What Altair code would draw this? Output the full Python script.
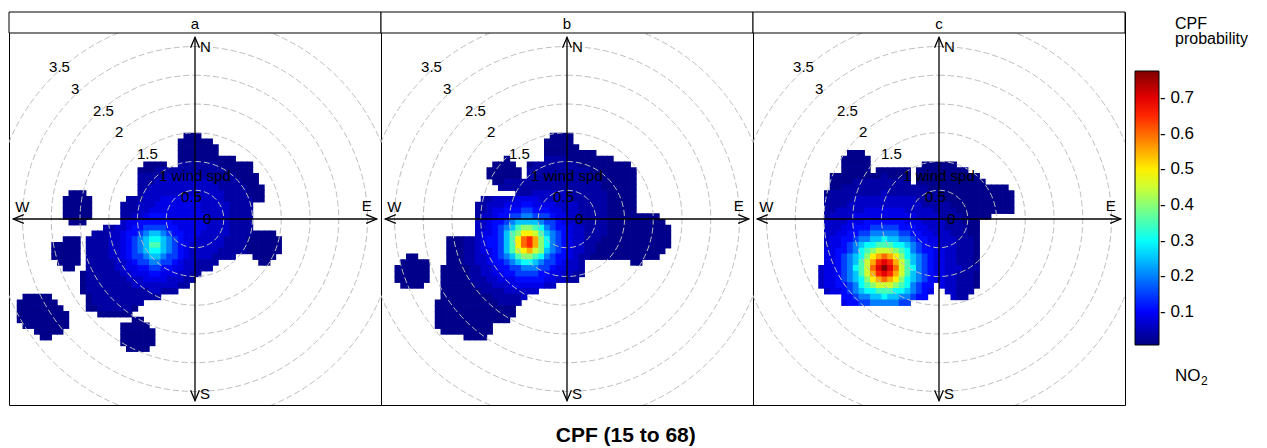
import math
import altair as alt
import pandas as pd

# ---------------------------------------------------------------- data
PANELS = ["a", "b", "c"]
TITLE = "CPF (15 to 68)"
LEGEND_TITLE = ["CPF", "probability"]
POLLUTANT = ["NO", "2"]
CPF_TICKS = [0.1, 0.2, 0.3, 0.4, 0.5, 0.6, 0.7]
CPF_DOMAIN = [0.007, 0.776]
JET = ["#00007F", "#0000FF", "#007FFF", "#00FFFF", "#7FFF7F",
       "#FFFF00", "#FF7F00", "#FF0000", "#7F0000"]

RING_RADII = [0.5, 1.0, 1.5, 2.0, 2.5, 3.0, 3.5]
RING_LABEL_R = [0.0, 0.5, 1.0, 1.5, 2.0, 2.5, 3.0, 3.5]
RING_LABELS = ["0", "0.5", "1 wind spd", "1.5", "2", "2.5", "3", "3.5"]
COMPASS = ["N", "E", "S", "W"]

# CPF probability read cell by cell (0.1 wind-speed units), '.' = no data
CODES = "0123456789abcdefghi"
CODE_VALUES = [0.015, 0.035, 0.06, 0.085, 0.11, 0.15, 0.2, 0.25, 0.3, 0.35,
               0.4, 0.45, 0.5, 0.55, 0.6, 0.65, 0.7, 0.74, 0.77]
GRID_X0, GRID_Y0, GRID_STEP = -3.1, 1.5, 0.1

GRID_A = [
    "..... ..... ..... ..... ..... ....0 00... ..... ..... ....",
    "..... ..... ..... ..... ..... ...00 0000. ..... ..... ....",
    "..... ..... ..... ..... ..... ...00 00000 ..... ..... ....",
    "..... ..... ..... ..... ..... ...00 00000 ..... ..... ....",
    "..... ..... ..... ..... ..... ...00 00000 000.. ..... ....",
    "..... ..... ..... ..... ..000 0..11 11111 00000 0.... ....",
    "..... ..... ..... ..... .0001 11111 11111 10000 0.... ....",
    "..... ..... ..... ..... .1111 12222 22111 11100 00... ....",
    "..... ..... ..... ..... .1112 22222 22221 11110 00... ....",
    "..... ..... ..... ..... .1122 22222 22222 11111 000.. ....",
    "..... ....0 00... ..... .1222 22222 22222 21111 000.. ....",
    "..... ...00 000.. ....1 11222 33333 32222 21111 100.. ....",
    "..... ...00 000.. ...11 12223 33333 33222 22111 1.... ....",
    "..... ...00 000.. ...11 12233 33333 33222 22111 1.... ....",
    "..... ...00 000.. ...11 22344 43333 33322 22111 1.... ....",
    "..... ....0 00... ...23 34444 44333 33322 22111 1.... ....",
    "..... ..... ..... 11223 44555 54433 33322 22111 1.... ....",
    "..... ..... ...11 12234 45677 65443 33222 22111 10000 ....",
    "..... ...00 0.111 12234 56788 76543 32222 21111 00000 0...",
    "..... .0000 0.111 12234 56799 76543 22222 21111 00000 0...",
    "..... .0000 0.111 12234 56788 76543 22222 11111 00000 0...",
    "..... .0000 0.111 12234 55677 65543 22221 111.. .0000 ....",
    "..... ..000 0.111 11223 45566 55432 21111 ..... ..00. ....",
    "..... ...00 ..111 11223 34455 44332 2111. ..... ..... ....",
    "..... ..... .0111 11122 33344 33322 11... ..... ..... ....",
    "..... ..... .0111 11112 22333 32221 1.... ..... ..... ....",
    "..... ..... .0111 11111 22222 22211 ..... ..... ..... ....",
    "..... ..... .0111 11111 11122 111.. ..... ..... ..... ....",
    ".0000 0.... ..011 11111 11111 ..... ..... ..... ..... ....",
    "00000 00... ..011 11111 11... ..... ..... ..... ..... ....",
    "00000 000.. ..001 11111 0.... ..... ..... ..... ..... ....",
    "00000 0000. ....0 00000 ..... ..... ..... ..... ..... ....",
    "00000 0000. ..... ..... 00... ..... ..... ..... ..... ....",
    ".0000 0000. ..... ...00 000.. ..... ..... ..... ..... ....",
    "...00 000.. ..... ...00 0000. ..... ..... ..... ..... ....",
    "....0 0.... ..... ...00 0000. ..... ..... ..... ..... ....",
    "..... ..... ..... ...00 0000. ..... ..... ..... ..... ....",
    "..... ..... ..... ....0 000.. ..... ..... ..... ..... ....",
]

GRID_B = [
    "..... ..... ..... ..... ..... ...00 00... ..... ..... ....",
    "..... ..... ..... ..... ..... ..000 00... ..... ..... ....",
    "..... ..... ..... ..... ..... ..000 000.. ..... ..... ....",
    "..... ..... ..... ..... ..... ..000 00000 0.... ..... ....",
    "..... ..... ..... ..... 0.... ..111 10000 0000. ..... ....",
    "..... ..... ..... ...00 00..0 11111 11100 00000 00... ....",
    "..... ..... ..... ..000 000.1 11111 11111 00000 000.. ....",
    "..... ..... ..... ..000 000.1 11111 11111 10000 000.. ....",
    "..... ..... ..... ...00 11111 11111 11111 11000 000.. ....",
    "..... ..... ..... ....1 11111 11111 11111 11000 000.. ....",
    "..... ..... ..... ..... ..111 22222 21111 11100 000.. ....",
    "..... ..... ..... .1122 22333 32222 22111 11100 000.. ....",
    "..... ..... ..... 11222 33344 33332 22211 11100 000.. ....",
    "..... ..... ..... 11233 44455 44433 22211 11100 000.. ....",
    "..... ..... ..... 12234 45566 55543 32211 11100 00000 00..",
    "..... ..... ..... 22344 56777 76554 32211 11100 00000 000.",
    "..... ..... ..... 22345 679aa 98654 43221 11100 00000 0000",
    "..... ..... ..... 23345 79acc b9765 43221 11100 00000 0000",
    "..... ..... 00011 23445 79cef da865 43221 11000 00000 0000",
    "..... ..... 00011 23445 79cef da865 43221 10000 00000 0000",
    "..... ..... 00011 23345 79bcd ba765 43221 10000 00000 000.",
    "...00 ..... 00011 22345 679aa 98654 43211 00000 00000 00..",
    "..000 00... 00011 22344 56788 76554 3221. ..... ..00. ....",
    ".0000 00..0 00001 12234 45566 65543 3221. ..... ..... ....",
    ".0000 00..0 00001 12233 44555 54433 2211. ..... ..... ....",
    ".0000 00..0 00001 11223 33444 44332 211.. ..... ..... ....",
    "..000 0...0 00000 11122 23333 3322. ..... ..... ..... ....",
    "..... ....0 00000 01111 22222 2.... ..... ..... ..... ....",
    "..... ....0 00000 00011 1112. ..... ..... ..... ..... ....",
    "..... ...00 00000 00001 111.. ..... ..... ..... ..... ....",
    "..... ...00 00000 00000 00... ..... ..... ..... ..... ....",
    "..... ...00 00000 00000 00... ..... ..... ..... ..... ....",
    "..... ...00 00000 00000 0.... ..... ..... ..... ..... ....",
    "..... ...00 00000 000.. ..... ..... ..... ..... ..... ....",
    "..... ....0 00000 000.. ..... ..... ..... ..... ..... ....",
    "..... ..... ...00 00... ..... ..... ..... ..... ..... ....",
]

GRID_C = [
    "..... ..... ..... ..... ..... ..... ..... ..... ..... ....",
    "..... ..... ..... ..... ..... ..... ..... ..... ..... ....",
    "..... ..... ..... ..... ..... ..... ..... ..... ..... ....",
    "..... ..... ..... 000.. ..... ..... ..... ..... ..... ....",
    "..... ..... ....0 0000. ..... ..... ..... ..... ..... ....",
    "..... ..... ....0 0000. ..... ...00 0000. ..... ..... ....",
    "..... ..... ....0 0000. 00000 0.000 00000 0.... ..... ....",
    "..... ..... ..000 00000 01000 0.000 00000 000.. ..... ....",
    "..... ..... ..000 01111 11111 1.000 00000 0000. ..... ....",
    "..... ..... ..001 11111 11111 11110 00000 00000 000.. ....",
    "..... ..... .0111 11111 12111 11111 10000 00000 0000. ....",
    "..... ..... .1111 12222 22222 22111 11000 00000 0000. ....",
    "..... ..... .1111 22222 22222 22211 11100 00000 0000. ....",
    "..... ..... .1122 22233 33333 22222 11110 00000 0000. ....",
    "..... ..... .1222 23333 33333 33222 21111 00000 ..... ....",
    "..... ..... .2222 33344 44444 33322 22111 000.. ..... ....",
    "..... ..... .2223 34445 55554 44332 22111 100.. ..... ....",
    "..... ..... .2233 44556 66665 54433 22211 100.. ..... ....",
    "..... ..... .2334 45667 78776 65443 32221 110.. ..... ....",
    "..... ..... .2334 56788 99988 76543 32221 110.. ..... ....",
    "..... ..... .3344 5689a bbba9 86544 33221 110.. ..... ....",
    "..... ..... .3345 678ac dedca 87654 33221 110.. ..... ....",
    "..... ..... .3345 679bd fgfdb 97654 33221 110.. ..... ....",
    "..... ..... 23345 689be gigeb 98654 33222 111.. ..... ....",
    "..... ..... 23345 679bd fgfdb 97654 33221 110.. ..... ....",
    "..... ..... 23345 678ac dedca 87654 33221 110.. ..... ....",
    "..... ..... 23344 5689a bbba9 86544 .3221 110.. ..... ....",
    "..... ..... .2334 56788 99988 76543 ..221 11... ..... ....",
    "..... ..... ....4 45667 78776 6544. ...21 1.... ..... ....",
    "..... ..... ....3 44556 66665 5.... ..... ..... ..... ....",
]
GRIDS = [GRID_A, GRID_B, GRID_C]

# ---------------------------------------------------------------- layout / style
FONT = "Liberation Sans"
W = 372                  # plot area of one panel (square)
STRIP_H = 21             # strip with the panel letter, on top of each panel
LIM = 3.235              # half extent of each panel in wind-speed units
UNIT_PX = (W / 2) / LIM  # pixels per wind-speed unit
TOP = LIM + STRIP_H / UNIT_PX
AXIS_TIP = 3.16          # where the compass arrows end
SEAM = 0.012             # tiny overlap so that adjacent cells show no seams


def cells(grid):
    recs = []
    for r, row in enumerate(grid):
        row = row.replace(" ", "")
        for c, ch in enumerate(row):
            if ch == ".":
                continue
            x0 = GRID_X0 + GRID_STEP * c
            y1 = GRID_Y0 - GRID_STEP * r
            recs.append({"x0": x0, "x1": x0 + GRID_STEP + SEAM,
                         "y0": y1 - GRID_STEP - SEAM, "y1": y1,
                         "v": CODE_VALUES[CODES.index(ch)]})
    return pd.DataFrame(recs)


xs = alt.Scale(domain=[-LIM, LIM], nice=False, zero=False)
ys = alt.Scale(domain=[-LIM, TOP], nice=False, zero=False)
cscale = alt.Scale(domain=CPF_DOMAIN, range=JET, interpolate="rgb")
rscale = alt.Scale(type="linear", domain=[0, LIM], range=[0, W / 2], zero=True)

legend = alt.Legend(
    type="gradient", orient="none", legendX=1126, legendY=59,
    direction="vertical", title=None,
    gradientLength=274, gradientThickness=24, gradientStrokeColor="black",
    gradientStrokeWidth=1, values=CPF_TICKS, format=".1f",
    labelFont=FONT, labelFontSize=17, labelColor="black", labelOffset=1,
    labelOverlap=False, labelExpr="'-  ' + datum.label", padding=0)


def X(f):
    return alt.X(f, scale=xs, axis=None)


def Y(f):
    return alt.Y(f, scale=ys, axis=None)


one = pd.DataFrame({"k": [0]})
ring_df = pd.DataFrame({"r": RING_RADII, "cx": 0.0, "cy": 0.0})
lab_df = pd.DataFrame({"r": RING_LABEL_R, "t": RING_LABELS})
axes_df = pd.DataFrame({"x": [-AXIS_TIP, 0.0], "x2": [AXIS_TIP, 0.0],
                        "y": [0.0, -AXIS_TIP], "y2": [0.0, AXIS_TIP]})
arrow_df = pd.DataFrame({"x": [0.0, AXIS_TIP, 0.0, -AXIS_TIP],
                         "y": [AXIS_TIP, 0.0, -AXIS_TIP, 0.0],
                         "ang": [0, 90, 180, 270]})
tips = {"N": (0.0, AXIS_TIP), "E": (AXIS_TIP, 0.0),
        "S": (0.0, -AXIS_TIP), "W": (-AXIS_TIP, 0.0)}
compass_style = {"N": dict(align="left", dx=5, dy=15),
                 "E": dict(align="center", dx=-10, dy=-8),
                 "S": dict(align="left", dx=5, dy=-2),
                 "W": dict(align="center", dx=9, dy=-7)}


def panel(name, grid):
    heat = alt.Chart(cells(grid)).mark_rect(strokeWidth=0).encode(
        x=X("x0:Q"), x2="x1:Q", y=Y("y0:Q"), y2="y1:Q",
        color=alt.Color("v:Q", scale=cscale, legend=legend))
    rings = alt.Chart(ring_df).mark_arc(
        theta=0, theta2=2 * math.pi, fillOpacity=0, stroke="#bdbdbd",
        strokeWidth=1, strokeDash=[6, 3], clip=True).encode(
        x=X("cx:Q"), y=Y("cy:Q"),
        radius=alt.Radius("r:Q", scale=rscale, stack=False))
    strip_box = alt.Chart(one).mark_rect(
        fill="white", stroke="black", strokeWidth=1).encode(
        x=alt.value(0), x2=alt.value(W), y=alt.value(0), y2=alt.value(STRIP_H))
    strip_txt = alt.Chart(pd.DataFrame({"p": [name]})).mark_text(
        font=FONT, fontSize=15, color="black", baseline="middle").encode(
        text="p:N", x=alt.value(W / 2), y=alt.value(12))
    labels = alt.Chart(lab_df).transform_calculate(
        lx="-0.765 * datum.r", ly="0.753 * datum.r").mark_text(
        align="left", baseline="middle", dx=8, font=FONT, fontSize=15,
        color="black").encode(x=X("lx:Q"), y=Y("ly:Q"), text="t:N")
    axes = alt.Chart(axes_df).mark_rule(color="black", strokeWidth=1.3).encode(
        x=X("x:Q"), x2="x2:Q", y=Y("y:Q"), y2="y2:Q")
    arrows = alt.Chart(arrow_df).mark_point(
        shape="M-0.42,1L0,0L0.42,1", filled=False, size=441, color="black",
        strokeWidth=1.3, opacity=1).encode(
        x=X("x:Q"), y=Y("y:Q"),
        angle=alt.Angle("ang:Q", scale=alt.Scale(domain=[0, 360], range=[0, 360])))
    layers = [heat, rings, strip_box, strip_txt, labels, axes, arrows]
    for d in COMPASS:
        tx, ty = tips[d]
        layers.append(
            alt.Chart(pd.DataFrame({"t": [d], "x": [tx], "y": [ty]})).mark_text(
                baseline="alphabetic", font=FONT, fontSize=15, color="black",
                **compass_style[d]).encode(x=X("x:Q"), y=Y("y:Q"), text="t:N"))
    return alt.layer(*layers).properties(width=W, height=W + STRIP_H)


def side_text(txt, x, y, size):
    return alt.Chart(pd.DataFrame({"t": [txt]})).mark_text(
        align="left", baseline="alphabetic", font=FONT, fontSize=size,
        color="black").encode(text="t:N", x=alt.value(x), y=alt.value(y))


side = alt.layer(
    side_text(LEGEND_TITLE[0], 50, 17, 16),
    side_text(LEGEND_TITLE[1], 50, 32, 16),
    side_text(POLLUTANT[0], 50, 369, 17),
    side_text(POLLUTANT[1], 76, 373, 12),
).properties(width=130, height=W + STRIP_H,
             view=alt.ViewBackground(stroke="transparent"))

chart = alt.hconcat(
    *[panel(n, g) for n, g in zip(PANELS, GRIDS)], side, spacing=0,
    bounds="flush"
).properties(
    title=alt.TitleParams(TITLE, orient="bottom", anchor="middle", font=FONT,
                          fontSize=21, fontWeight="bold", color="black",
                          offset=19, baseline="top", dx=-6),
    padding={"left": 8, "top": 11, "right": 0, "bottom": 0},
).configure_view(stroke="black", strokeWidth=1).configure_concat(spacing=0)

chart.save("out.html", embed_options={"renderer": "svg", "actions": False})
